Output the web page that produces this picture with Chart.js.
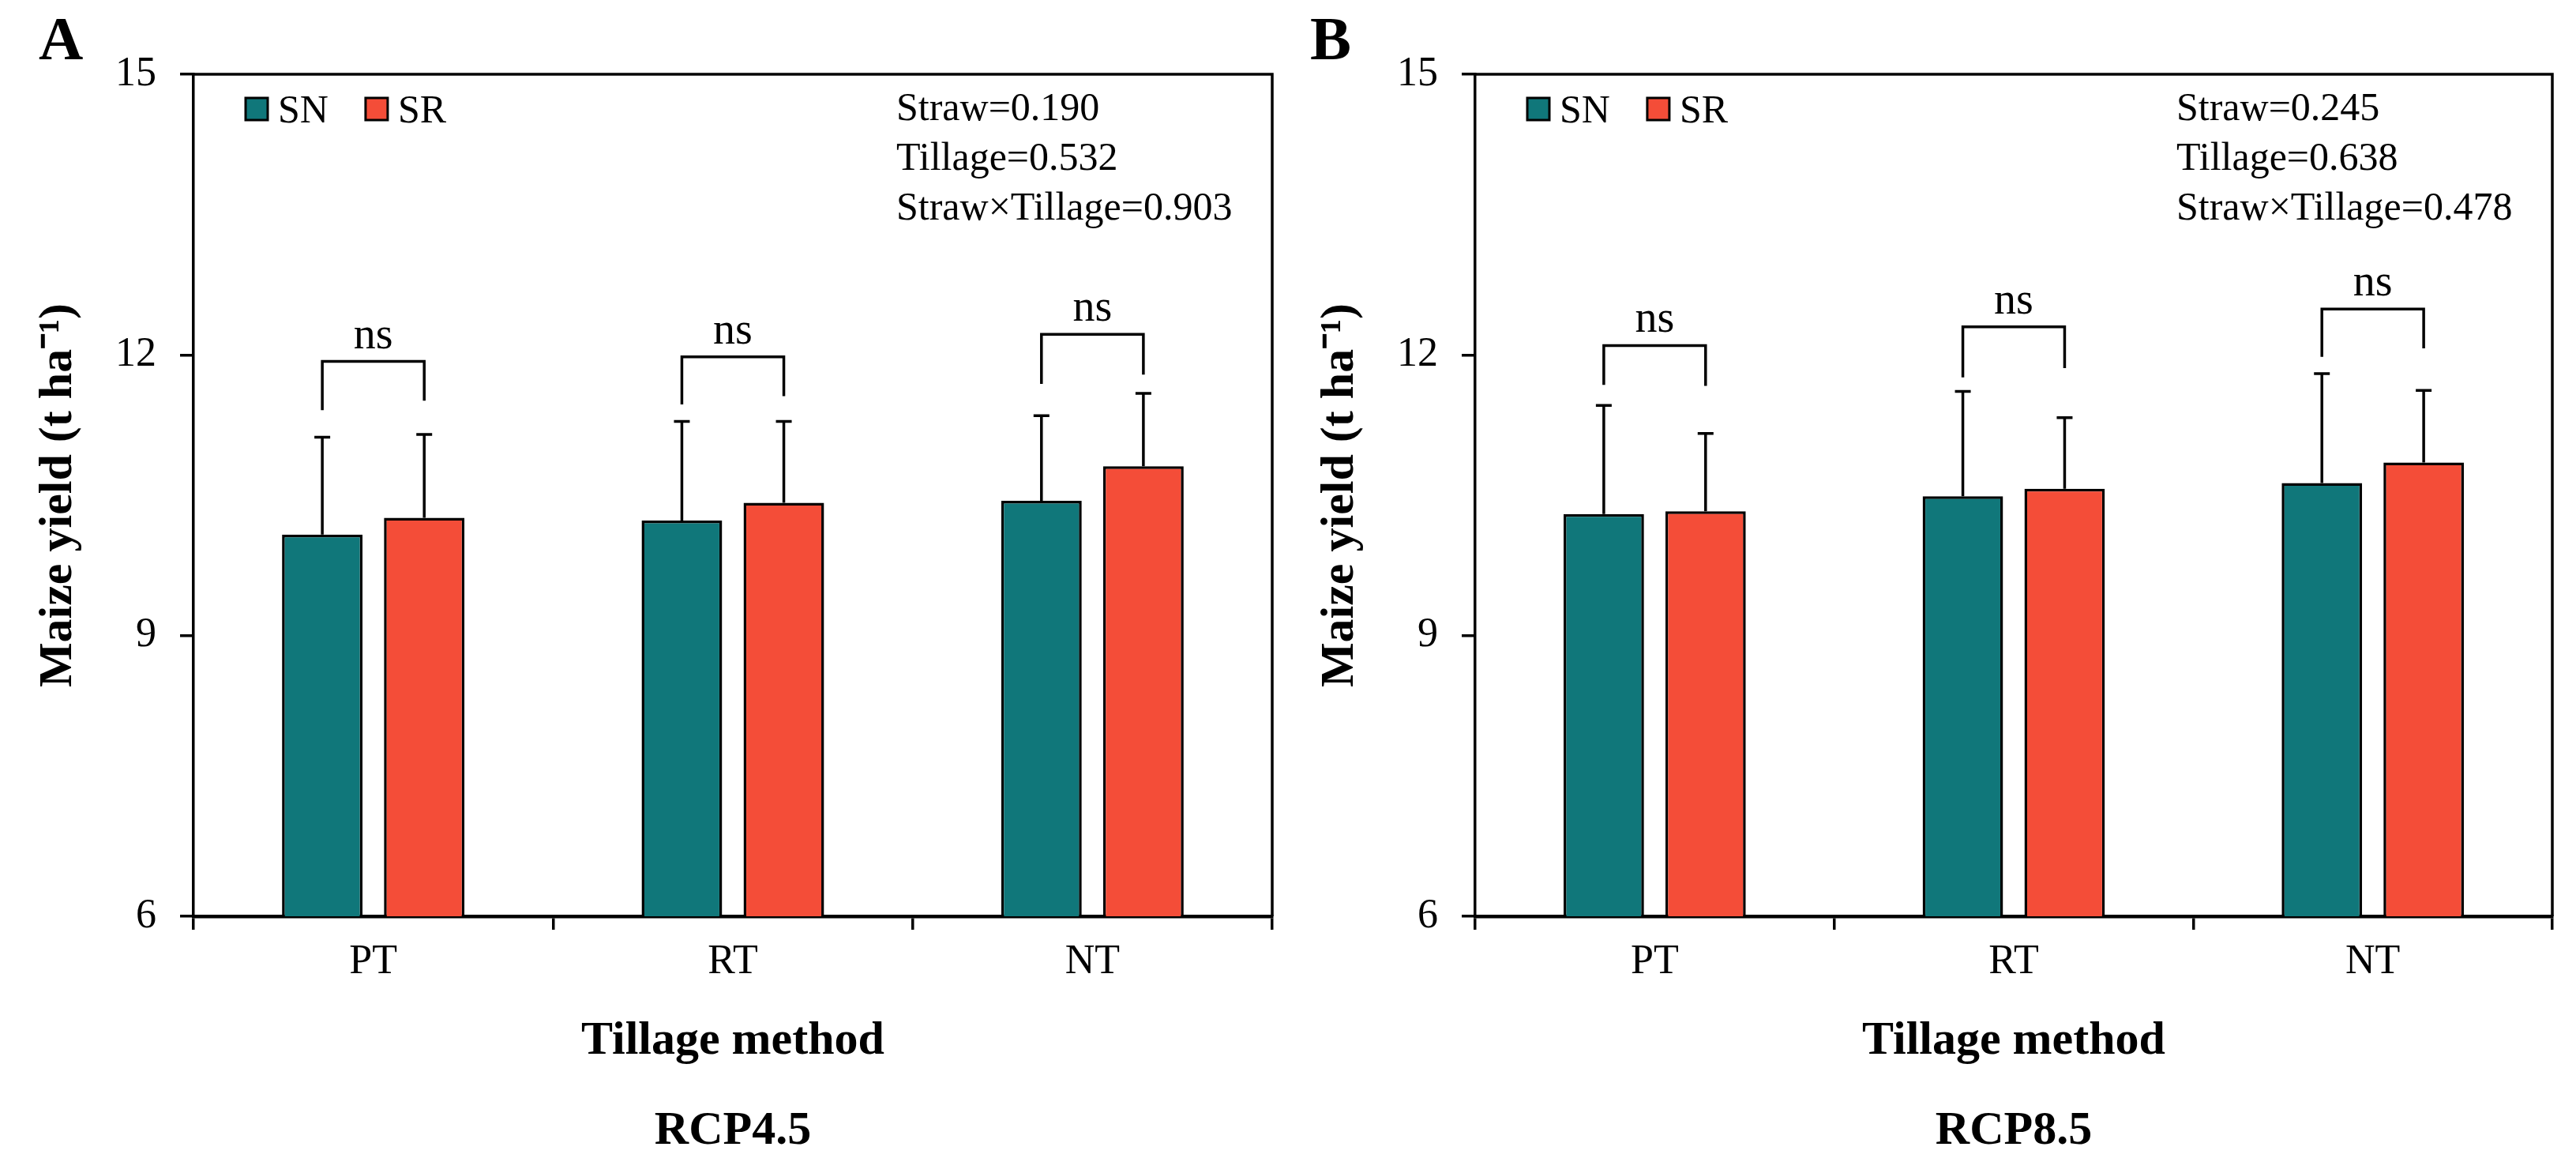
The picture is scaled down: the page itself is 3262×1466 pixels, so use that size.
<!DOCTYPE html>
<html><head><meta charset="utf-8">
<script src="https://cdn.jsdelivr.net/npm/chart.js@4.4.0/dist/chart.umd.min.js"></script>
<style>
html,body{margin:0;padding:0;background:#fff;width:3262px;height:1466px;overflow:hidden}
#pa{position:absolute;left:0;top:0;width:1623px;height:1466px}
#pb{position:absolute;left:1623px;top:0;width:1639px;height:1466px}
</style></head>
<body>
<div id="pa"><canvas id="ca"></canvas></div>
<div id="pb"><canvas id="cb"></canvas></div>
<script>
// ---- data ----
const categories = ['PT', 'RT', 'NT'];
const seriesNames = ['SN', 'SR'];
const yTicks = [6, 9, 12, 15];

// RCP4.5 (panel A)
const snA = [10.08, 10.23, 10.44];
const srA = [10.26, 10.42, 10.81];
const snSdA = [1.04, 1.06, 0.91];
const srSdA = [0.89, 0.87, 0.78];
const bracketTopA = [11.93, 11.98, 12.22];
const bracketLeftA = [11.41, 11.47, 11.69];
const bracketRightA = [11.51, 11.56, 11.79];
const sigA = ['ns', 'ns', 'ns'];
const statsA = ['Straw=0.190', 'Tillage=0.532', 'Straw\u00d7Tillage=0.903'];

// RCP8.5 (panel B)
const snB = [10.30, 10.49, 10.63];
const srB = [10.33, 10.57, 10.85];
const snSdB = [1.16, 1.12, 1.17];
const srSdB = [0.83, 0.76, 0.77];
const bracketTopB = [12.10, 12.30, 12.49];
const bracketLeftB = [11.68, 11.76, 11.98];
const bracketRightB = [11.67, 11.86, 12.07];
const sigB = ['ns', 'ns', 'ns'];
const statsB = ['Straw=0.245', 'Tillage=0.638', 'Straw\u00d7Tillage=0.478'];

// ---- styles ----
const TEAL = '#10777a';
const RED = '#f44d38';
const SERIF = '"Liberation Serif", "Times New Roman", serif';
Chart.defaults.font.family = SERIF;
Chart.defaults.color = '#000';

const annotPlugin = {
  id: 'annot',
  afterDatasetsDraw(chart, args, o) {
    const {ctx, chartArea: ca, scales: {y}} = chart;
    ctx.save();
    ctx.strokeStyle = '#000';
    ctx.lineCap = 'butt';
    ctx.lineJoin = 'miter';
    // frame top/right
    ctx.lineWidth = 3.5;
    ctx.beginPath();
    ctx.moveTo(ca.left, ca.top);
    ctx.lineTo(ca.right, ca.top);
    ctx.lineTo(ca.right, ca.bottom);
    ctx.stroke();
    // error bars (upper)
    chart.data.datasets.forEach((ds, di) => {
      const meta = chart.getDatasetMeta(di);
      const sd = o.sd[di];
      meta.data.forEach((bar, i) => {
        const yTop = y.getPixelForValue(ds.data[i] + sd[i]);
        ctx.lineWidth = 3.5;
        ctx.beginPath();
        ctx.moveTo(bar.x, bar.y);
        ctx.lineTo(bar.x, yTop);
        ctx.moveTo(bar.x - 10, yTop);
        ctx.lineTo(bar.x + 10, yTop);
        ctx.stroke();
      });
    });
    // significance brackets
    const m0 = chart.getDatasetMeta(0), m1 = chart.getDatasetMeta(1);
    o.sig.forEach((s, i) => {
      const x0 = m0.data[i].x, x1 = m1.data[i].x;
      const yt = y.getPixelForValue(o.bTop[i]);
      const yl = y.getPixelForValue(o.bLeft[i]);
      const yr = y.getPixelForValue(o.bRight[i]);
      ctx.lineWidth = 3.5;
      ctx.beginPath();
      ctx.moveTo(x0, yl);
      ctx.lineTo(x0, yt);
      ctx.lineTo(x1, yt);
      ctx.lineTo(x1, yr);
      ctx.stroke();
      ctx.fillStyle = '#000';
      ctx.font = '56px ' + SERIF;
      ctx.textAlign = 'center';
      ctx.textBaseline = 'alphabetic';
      ctx.fillText(s, (x0 + x1) / 2, yt - 17);
    });
    // legend
    let lx = ca.left + 66;
    const ly = ca.top + 30;
    ctx.font = '50px ' + SERIF;
    ctx.textAlign = 'left';
    ctx.textBaseline = 'alphabetic';
    chart.data.datasets.forEach(ds => {
      ctx.fillStyle = ds.backgroundColor;
      ctx.fillRect(lx, ly, 28, 28);
      ctx.lineWidth = 3;
      ctx.strokeRect(lx, ly, 28, 28);
      ctx.fillStyle = '#000';
      ctx.fillText(ds.label, lx + 41, ly + 31);
      lx += 41 + ctx.measureText(ds.label).width + 47;
    });
    // statistics text
    ctx.font = '50px ' + SERIF;
    o.stats.forEach((t, i) => {
      ctx.fillText(t, ca.right - 476, ca.top + 58 + i * 63);
    });
    // panel letter
    ctx.font = 'bold 78px ' + SERIF;
    ctx.fillText(o.letter, o.letterX, 75);
    ctx.restore();
  }
};

function makeChart(id, sn, sr, snSd, srSd, bTop, bLeft, bRight, sig, stats, letter, letterX, scenario, padRight) {
  return new Chart(document.getElementById(id), {
    type: 'bar',
    data: {
      labels: categories,
      datasets: [
        {label: seriesNames[0], data: sn, backgroundColor: TEAL, borderColor: '#000', borderWidth: 3.5},
        {label: seriesNames[1], data: sr, backgroundColor: RED, borderColor: '#000', borderWidth: 3.5}
      ]
    },
    options: {
      responsive: true,
      maintainAspectRatio: false,
      devicePixelRatio: 1,
      animation: false,
      categoryPercentage: 0.567,
      barPercentage: 0.79,
      layout: {padding: {left: 30, right: padRight, top: 94, bottom: 4}},
      scales: {
        x: {
          grid: {drawOnChartArea: false, drawTicks: true, tickLength: 17, lineWidth: 3.5, color: '#000', offset: true},
          border: {display: true, color: '#000', width: 4.5},
          ticks: {padding: 10, font: {size: 52}, color: '#000'},
          title: {display: true, text: 'Tillage method', color: '#000',
                  font: {size: 60, weight: 'bold', lineHeight: 1.2}, padding: {top: 0, bottom: 38}},
          afterFit(scale) { scale.height = 232; }
        },
        y: {
          min: yTicks[0], max: yTicks[yTicks.length - 1],
          afterBuildTicks(scale) { scale.ticks = yTicks.map(v => ({value: v})); },
          grid: {drawOnChartArea: false, drawTicks: true, tickLength: 17, lineWidth: 3.5, color: '#000'},
          border: {display: true, color: '#000', width: 3.5},
          ticks: {padding: 30, font: {size: 52}, color: '#000'},
          title: {display: true, text: 'Maize yield (t ha\u207b\u00b9)', color: '#000',
                  font: {size: 60, weight: 'bold', lineHeight: 1.2}, padding: {top: 8}},
          afterFit(scale) { scale.width = 215; }
        }
      },
      plugins: {
        legend: {display: false},
        tooltip: {enabled: false},
        title: {display: true, text: scenario, position: 'bottom', fullSize: false, color: '#000',
                font: {size: 60, weight: 'bold', lineHeight: 1}, padding: {top: 10, bottom: 0}},
        annot: {sd: [snSd, srSd], bTop, bLeft, bRight, sig, stats, letter, letterX}
      }
    },
    plugins: [annotPlugin]
  });
}

makeChart('ca', snA, srA, snSdA, srSdA, bracketTopA, bracketLeftA, bracketRightA, sigA, statsA, 'A', 49, 'RCP4.5', 12);
makeChart('cb', snB, srB, snSdB, srSdB, bracketTopB, bracketLeftB, bracketRightB, sigB, statsB, 'B', 36, 'RCP8.5', 30);
</script>
</body></html>
